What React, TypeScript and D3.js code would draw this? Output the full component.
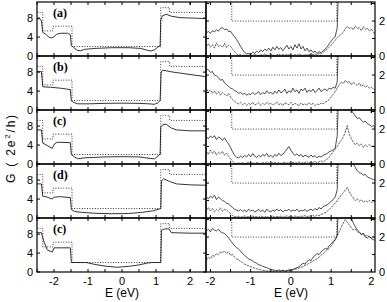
import React from "react";
import * as d3 from "d3";

type P = [number, number];

const energyLabelTicks = [-2, -1, 0, 1, 2];
const energyMinorTicks = [-2.5, -2, -1.5, -1, -0.5, 0, 0.5, 1, 1.5, 2];
const leftYTicks = [0, 4, 8];
const rightYLabelTicks = [0, 2];
const rightYTicks = [1, 2, 3];
const panelLabels = ["(a)", "(b)", "(c)", "(d)", "(c)"];

// ideal (dotted) conductance, shared by all panels
const idealG: P[] = [
  [-2.5, 9.2], [-2.33, 9.2], [-2.33, 5.3], [-2.03, 5.3], [-2.03, 6.3], [-1.47, 6.3],
  [-1.47, 2.0], [1.14, 2.0], [1.14, 10.2], [1.4, 10.2], [1.4, 9.2], [2.5, 9.2],
];

const solidA: P[] = [
  [-2.5, 7.8], [-2.42, 7.9], [-2.37, 7.4], [-2.33, 5.0], [-2.25, 4.6], [-2.15, 4.0], [-2.07, 3.8],
  [-2.0, 4.1], [-1.92, 4.6], [-1.8, 4.8], [-1.6, 4.8], [-1.52, 4.5], [-1.49, 2.2], [-1.42, 1.8],
  [-1.32, 1.2], [-1.22, 1.1], [-1.1, 1.4], [-0.8, 1.6], [-0.3, 1.75], [0.2, 1.75], [0.55, 1.6],
  [0.75, 1.2], [0.85, 1.05], [0.95, 1.3], [1.05, 1.9], [1.12, 2.1], [1.14, 7.6], [1.19, 8.5],
  [1.3, 8.8], [1.45, 8.4], [1.7, 8.1], [2.1, 8.0], [2.5, 7.9],
];
const solidB: P[] = [
  [-2.5, 8.1], [-2.37, 8.1], [-2.33, 4.9], [-2.1, 4.8], [-1.8, 4.6], [-1.52, 4.3], [-1.49, 1.9],
  [-1.42, 1.6], [-1.3, 1.3], [-1.0, 1.3], [-0.5, 1.4], [0.0, 1.45], [0.5, 1.4], [0.8, 1.3],
  [0.95, 1.2], [1.05, 1.5], [1.12, 2.0], [1.15, 8.0], [1.2, 8.4], [1.5, 8.0], [2.0, 7.5], [2.5, 7.0],
];
const solidC: P[] = [
  [-2.5, 7.2], [-2.37, 7.2], [-2.33, 4.4], [-2.2, 3.9], [-2.05, 3.3], [-1.98, 4.3], [-1.9, 4.6],
  [-1.52, 4.5], [-1.49, 2.0], [-1.4, 1.5], [-1.3, 1.1], [-1.1, 1.3], [-0.5, 1.5], [0.0, 1.55],
  [0.5, 1.5], [0.85, 1.15], [0.95, 1.1], [1.05, 1.6], [1.12, 2.1], [1.14, 7.8], [1.2, 8.3],
  [1.3, 8.4], [1.45, 7.6], [1.6, 7.2], [2.0, 7.0], [2.5, 7.0],
];
const solidD: P[] = [
  [-2.5, 7.2], [-2.37, 7.2], [-2.33, 4.6], [-2.2, 4.4], [-2.05, 4.0], [-2.0, 4.4], [-1.8, 4.5],
  [-1.52, 4.3], [-1.49, 1.8], [-1.4, 1.4], [-1.2, 1.2], [-0.8, 1.0], [-0.3, 0.9], [0.2, 0.95],
  [0.6, 1.2], [0.9, 1.5], [1.1, 1.9], [1.14, 2.0], [1.16, 7.8], [1.22, 8.3], [1.4, 7.7],
  [1.6, 7.2], [2.0, 7.0], [2.5, 6.9],
];
const solidE: P[] = [
  [-2.5, 8.3], [-2.37, 8.3], [-2.3, 6.5], [-2.2, 4.7], [-2.05, 4.2], [-2.0, 5.1], [-1.52, 5.1],
  [-1.49, 2.0], [-1.05, 2.0], [-0.8, 1.6], [-0.5, 1.25], [-0.15, 1.0], [0.2, 1.2], [0.5, 1.5],
  [0.75, 1.9], [0.9, 2.0], [1.14, 2.0], [1.16, 8.8], [1.25, 9.1], [1.38, 9.1], [1.45, 8.3],
  [2.0, 8.2], [2.5, 8.2],
];

// right panels: sampled every 0.05 eV from -2.1 to 2.1 (85 samples)
const rightSolidA = [
  1.33, 1.40, 1.30, 1.45, 1.38, 1.50, 1.42, 1.58, 1.62, 1.50, 1.55, 1.40, 1.42, 1.25, 1.10, 0.95, 0.75,
  0.55, 0.35, 0.20, 0.12, 0.15, 0.10, 0.22, 0.15, 0.28, 0.20, 0.35, 0.25, 0.40, 0.30, 0.45, 0.28, 0.50,
  0.35, 0.55, 0.38, 0.48, 0.30, 0.45, 0.62, 0.40, 0.55, 0.35, 0.65, 0.45, 0.70, 0.40, 0.55, 0.30, 0.45,
  0.25, 0.35, 0.20, 0.28, 0.15, 0.25, 0.18, 0.30, 0.40, 0.50, 0.70, 0.85, 1.00, 1.10, 1.60, 5, 5, 5,
  5, 5, 5, 5, 5, 5, 5, 5, 5, 5, 5, 5, 5, 5, 5, 5,
];
const rightLowerA = [
  0.55, 0.70, 0.50, 0.65, 0.45, 0.75, 0.55, 0.60, 0.50, 0.72, 0.48, 0.62, 0.55, 0.40, 0.25, 0.12, 0.05,
  0.08, 0.03, 0.06, 0.02, 0.05, 0.08, 0.03, 0.10, 0.05, 0.02, 0.08, 0.04, 0.12, 0.06, 0.03, 0.09, 0.05,
  0.02, 0.07, 0.10, 0.04, 0.08, 0.03, 0.11, 0.05, 0.07, 0.02, 0.09, 0.04, 0.12, 0.06, 0.03, 0.08, 0.05,
  0.10, 0.04, 0.08, 0.12, 0.06, 0.15, 0.10, 0.22, 0.30, 0.38, 0.50, 0.62, 0.75, 0.90, 1.05, 1.15, 1.25,
  1.35, 1.55, 1.70, 1.55, 1.65, 1.50, 1.72, 1.58, 1.62, 1.45, 1.68, 1.52, 1.60, 1.42, 1.55, 1.35, 1.28,
];
const rightSolidB = [
  2.35, 2.30, 2.15, 2.20, 2.00, 1.95, 1.85, 1.70, 1.75, 1.55, 1.45, 1.35, 1.25, 1.20, 1.10, 1.05, 0.95,
  1.00, 0.90, 0.95, 0.85, 0.92, 0.88, 1.00, 0.90, 0.95, 1.05, 0.88, 1.00, 0.92, 1.10, 0.95, 1.02, 0.90,
  1.08, 0.95, 1.15, 0.98, 1.05, 1.20, 0.95, 1.10, 1.00, 1.25, 1.05, 1.15, 0.95, 1.20, 1.10, 1.25, 1.00,
  1.15, 1.05, 1.20, 1.00, 1.10, 1.25, 1.05, 1.15, 1.20, 1.10, 1.25, 1.20, 1.30, 1.25, 1.60, 5, 5, 5,
  5, 5, 5, 5, 5, 5, 5, 5, 5, 5, 5, 5, 5, 5, 5, 5,
];
const rightLowerB = [
  1.20, 1.05, 1.15, 0.95, 1.10, 0.90, 1.05, 0.85, 1.00, 0.92, 0.80, 0.95, 0.75, 0.60, 0.50, 0.40, 0.35,
  0.45, 0.30, 0.40, 0.25, 0.38, 0.30, 0.45, 0.28, 0.35, 0.42, 0.25, 0.38, 0.30, 0.45, 0.32, 0.40, 0.28,
  0.35, 0.45, 0.30, 0.38, 0.25, 0.42, 0.35, 0.30, 0.45, 0.28, 0.38, 0.32, 0.25, 0.40, 0.30, 0.35, 0.28,
  0.42, 0.30, 0.38, 0.25, 0.35, 0.30, 0.40, 0.35, 0.45, 0.50, 0.60, 0.75, 0.90, 1.05, 1.25, 1.45, 1.60,
  1.50, 1.70, 1.55, 1.65, 1.45, 1.60, 1.50, 1.40, 1.55, 1.35, 1.45, 1.30, 1.40, 1.25, 1.30, 1.20, 1.15,
];
const rightSolidC = [
  1.55, 1.45, 1.60, 1.50, 1.62, 1.40, 1.55, 1.48, 1.35, 1.50, 1.30, 1.15, 0.95, 0.70, 0.50, 0.38, 0.35,
  0.45, 0.38, 0.50, 0.40, 0.55, 0.42, 0.60, 0.45, 0.38, 0.50, 0.40, 0.55, 0.45, 0.60, 0.42, 0.50, 0.38,
  0.55, 0.45, 0.62, 0.48, 0.55, 0.70, 0.85, 1.00, 0.80, 0.60, 0.50, 0.58, 0.45, 0.55, 0.40, 0.50, 0.45,
  0.38, 0.52, 0.40, 0.48, 0.35, 0.45, 0.40, 0.50, 0.55, 0.60, 0.70, 0.75, 0.80, 0.90, 1.60, 5, 5, 5,
  5, 5, 5, 3.1, 2.9, 2.75, 2.6, 2.65, 2.5, 2.4, 2.45, 2.3, 2.25, 2.15, 2.2, 2.05,
];
const rightLowerC = [
  0.70, 0.55, 0.80, 0.60, 0.75, 0.50, 0.68, 0.58, 0.72, 0.50, 0.62, 0.45, 0.30, 0.15, 0.05, 0.02, 0.06,
  0.03, 0.08, 0.02, 0.05, 0.10, 0.04, 0.07, 0.02, 0.09, 0.05, 0.03, 0.08, 0.04, 0.12, 0.05, 0.02, 0.07,
  0.10, 0.04, 0.08, 0.03, 0.06, 0.11, 0.04, 0.08, 0.02, 0.10, 0.05, 0.07, 0.12, 0.04, 0.09, 0.06, 0.14,
  0.05, 0.10, 0.08, 0.15, 0.06, 0.12, 0.18, 0.10, 0.20, 0.28, 0.40, 0.55, 0.70, 0.85, 1.00, 1.20, 1.35,
  1.55, 1.80, 2.20, 1.70, 1.45, 1.25, 1.10, 1.20, 1.05, 1.15, 0.95, 1.10, 1.00, 1.12, 0.98, 1.05, 0.95,
];
const rightSolidD = [
  1.20, 1.10, 1.25, 1.15, 1.30, 1.05, 1.20, 1.10, 1.00, 0.95, 0.85, 0.80, 0.70, 0.60, 0.50, 0.45, 0.40,
  0.48, 0.38, 0.45, 0.35, 0.50, 0.40, 0.45, 0.35, 0.42, 0.48, 0.38, 0.45, 0.32, 0.50, 0.40, 0.35, 0.45,
  0.38, 0.52, 0.40, 0.48, 0.35, 0.45, 0.42, 0.50, 0.38, 0.46, 0.40, 0.52, 0.36, 0.45, 0.40, 0.48, 0.38,
  0.45, 0.50, 0.42, 0.55, 0.45, 0.60, 0.52, 0.65, 0.70, 0.75, 0.85, 0.95, 1.05, 1.20, 1.60, 5, 5, 5,
  5, 5, 5, 5, 3.1, 2.9, 2.7, 2.6, 2.55, 2.45, 2.5, 2.35, 2.3, 2.25, 2.2, 2.15,
];
const rightLowerD = [
  0.45, 0.60, 0.40, 0.55, 0.35, 0.50, 0.42, 0.58, 0.38, 0.50, 0.45, 0.35, 0.25, 0.15, 0.08, 0.05, 0.10,
  0.04, 0.08, 0.12, 0.05, 0.09, 0.03, 0.11, 0.06, 0.08, 0.04, 0.12, 0.07, 0.05, 0.10, 0.03, 0.08, 0.12,
  0.05, 0.09, 0.06, 0.11, 0.04, 0.08, 0.13, 0.06, 0.10, 0.05, 0.12, 0.08, 0.06, 0.11, 0.09, 0.14, 0.07,
  0.12, 0.10, 0.15, 0.08, 0.18, 0.12, 0.20, 0.25, 0.30, 0.38, 0.48, 0.60, 0.72, 0.85, 1.00, 1.15, 1.30,
  1.45, 1.60, 1.75, 1.50, 1.30, 1.15, 1.00, 1.10, 0.95, 1.05, 0.90, 1.00, 0.92, 1.02, 0.88, 0.95, 0.90,
];
const rightSolidE = [
  2.35, 2.45, 2.30, 2.50, 2.40, 2.35, 2.45, 2.30, 2.25, 2.20, 2.10, 1.95, 1.80, 1.65, 1.50, 1.40, 1.30,
  1.20, 1.05, 0.95, 0.85, 0.75, 0.70, 0.62, 0.55, 0.50, 0.42, 0.38, 0.32, 0.28, 0.25, 0.20, 0.15, 0.12,
  0.10, 0.08, 0.12, 0.06, 0.10, 0.05, 0.08, 0.12, 0.10, 0.15, 0.20, 0.25, 0.30, 0.40, 0.50, 0.45, 0.60,
  0.70, 0.65, 0.85, 0.95, 1.05, 1.00, 1.15, 1.25, 1.35, 1.30, 1.50, 1.60, 1.75, 1.85, 2.10, 5, 5, 5,
  5, 5, 5, 3.1, 2.8, 2.6, 2.4, 2.3, 2.15, 2.2, 2.0, 1.95, 2.05, 1.90, 1.85, 1.80,
];
const rightLowerE = [
  0.70, 0.85, 0.75, 0.95, 0.90, 1.05, 1.00, 1.15, 1.10, 1.20, 1.05, 1.15, 0.95, 1.00, 0.85, 0.75, 0.70,
  0.60, 0.55, 0.45, 0.40, 0.35, 0.30, 0.28, 0.22, 0.18, 0.15, 0.12, 0.10, 0.08, 0.06, 0.05, 0.07, 0.04,
  0.05, 0.03, 0.06, 0.04, 0.08, 0.05, 0.07, 0.10, 0.08, 0.12, 0.15, 0.18, 0.22, 0.28, 0.30, 0.38, 0.42,
  0.50, 0.55, 0.62, 0.70, 0.75, 0.85, 0.95, 1.05, 1.15, 1.25, 1.35, 1.50, 1.65, 1.85, 2.05, 2.30, 2.55,
  2.80, 3.00, 2.85, 2.70, 2.55, 2.40, 2.45, 2.30, 2.25, 2.15, 2.20, 2.05, 2.10, 2.00, 1.95, 2.05, 1.95,
];

const leftSolids = [solidA, solidB, solidC, solidD, solidE];
const rightSolids = [rightSolidA, rightSolidB, rightSolidC, rightSolidD, rightSolidE];
const rightLowers = [rightLowerA, rightLowerB, rightLowerC, rightLowerD, rightLowerE];

const rightEnergyStart = -2.1;
const rightEnergyStep = 0.05;

const W = 387;
const H = 302;
const L0 = 37;
const MID = 206;
const R1 = 375;
const TOP = 2;
const ROWH = 54;
const NROWS = 5;

const sans = "'Liberation Sans', Arial, Helvetica, sans-serif";
const serif = "'Liberation Serif', 'Times New Roman', serif";

export default function App() {
  const xL = d3.scaleLinear().domain([-2.5, 2.47]).range([L0, MID]);
  const xR = d3.scaleLinear().domain([-2.11, 2.09]).range([MID, R1]);
  const line = d3.line<P>();

  const rows = d3.range(NROWS).map((r) => {
    const y0 = TOP + r * ROWH;
    const y1 = y0 + ROWH;
    const yL = d3.scaleLinear().domain([0, 11.4]).range([y1, y0]);
    const yR = d3.scaleLinear().domain([0, 3.09]).range([y1, y0]);
    const toRight = (vals: number[]): P[] =>
      vals.map((v, i) => [xR(rightEnergyStart + i * rightEnergyStep), yR(v)] as P);
    return (
      <g key={r}>
        <defs>
          <clipPath id={`cl${r}`}>
            <rect x={L0} y={y0} width={MID - L0} height={ROWH} />
          </clipPath>
          <clipPath id={`cr${r}`}>
            <rect x={MID} y={y0} width={R1 - MID} height={ROWH} />
          </clipPath>
        </defs>
        {/* left panel curves */}
        <g clipPath={`url(#cl${r})`} fill="none">
          <path
            d={line(idealG.map(([e, g]) => [xL(e), yL(g)] as P)) || ""}
            stroke="#000"
            strokeWidth={0.8}
            strokeDasharray="1,1.6"
          />
          <path
            d={line(leftSolids[r].map(([e, g]) => [xL(e), yL(g)] as P)) || ""}
            stroke="#000"
            strokeWidth={0.8}
          />
        </g>
        {/* right panel curves */}
        <g clipPath={`url(#cr${r})`} fill="none">
          <path
            d={line(idealG.map(([e, g]) => [xR(e), yR(g)] as P)) || ""}
            stroke="#000"
            strokeWidth={0.8}
            strokeDasharray="1,1.6"
          />
          <path d={line(toRight(rightLowers[r])) || ""} stroke="#222" strokeWidth={0.7} strokeDasharray="2.5,0.8" />
          <path d={line(toRight(rightSolids[r])) || ""} stroke="#000" strokeWidth={0.7} />
        </g>
        {/* ticks */}
        {energyMinorTicks.map((e) => (
          <g key={`tl${e}`} stroke="#000" strokeWidth={1}>
            <line x1={xL(e)} x2={xL(e)} y1={y0} y2={y0 + 3} />
            <line x1={xL(e)} x2={xL(e)} y1={y1} y2={y1 - 3} />
          </g>
        ))}
        {energyMinorTicks.concat([2]).map((e, i) => (
          <g key={`tr${i}`} stroke="#000" strokeWidth={1}>
            <line x1={xR(e)} x2={xR(e)} y1={y0} y2={y0 + 3} />
            <line x1={xR(e)} x2={xR(e)} y1={y1} y2={y1 - 3} />
          </g>
        ))}
        {leftYTicks.map((g) => (
          <g key={`yl${g}`} stroke="#000" strokeWidth={1}>
            <line x1={L0} x2={L0 + 3} y1={yL(g)} y2={yL(g)} />
            <line x1={MID} x2={MID - 3} y1={yL(g)} y2={yL(g)} />
          </g>
        ))}
        {rightYTicks.map((g) => (
          <g key={`yr${g}`} stroke="#000" strokeWidth={1}>
            <line x1={MID} x2={MID + 3} y1={yR(g)} y2={yR(g)} />
            <line x1={R1} x2={R1 - 3} y1={yR(g)} y2={yR(g)} />
          </g>
        ))}
        {/* frames */}
        <rect x={L0} y={y0} width={MID - L0} height={ROWH} fill="none" stroke="#000" strokeWidth={1.2} />
        <rect x={MID} y={y0} width={R1 - MID} height={ROWH} fill="none" stroke="#000" strokeWidth={1.2} />
        {/* tick labels */}
        {leftYTicks.map((g) => (
          <text key={`lyl${g}`} x={33} y={yL(g)} dy="0.36em" textAnchor="end" fontFamily={sans} fontSize={11}>
            {g}
          </text>
        ))}
        {rightYLabelTicks.map((g) => (
          <text key={`lyr${g}`} x={379} y={yR(g)} dy="0.36em" textAnchor="start" fontFamily={sans} fontSize={11}>
            {g}
          </text>
        ))}
        <text x={53} y={y0 + 15} fontFamily={serif} fontWeight="bold" fontSize={12}>
          {panelLabels[r]}
        </text>
      </g>
    );
  });

  const yBottom = TOP + NROWS * ROWH;

  return (
    <svg width={W} height={H} style={{ position: "absolute", left: 0, top: 0, background: "#fff" }}>
      <rect x={0} y={0} width={W} height={H} fill="#fff" />
      {rows}
      {energyLabelTicks.map((e) => (
        <text key={`bl${e}`} x={xL(e)} y={yBottom + 13} textAnchor="middle" fontFamily={sans} fontSize={11}>
          {e}
        </text>
      ))}
      {energyLabelTicks.map((e) => (
        <text key={`br${e}`} x={xR(e)} y={yBottom + 13} textAnchor="middle" fontFamily={sans} fontSize={11}>
          {e}
        </text>
      ))}
      <text x={xL(0)} y={297} textAnchor="middle" fontFamily={sans} fontSize={12}>
        E (eV)
      </text>
      <text x={xR(0)} y={297} textAnchor="middle" fontFamily={sans} fontSize={12}>
        E (eV)
      </text>
      <text
        transform={`translate(15,148) rotate(-90)`}
        textAnchor="middle"
        fontFamily={sans}
        fontSize={12}
        letterSpacing={1.8}
      >
        G ( 2e<tspan dy="-5" fontSize={8}>2</tspan><tspan dy="5">/h)</tspan>
      </text>
    </svg>
  );
}
